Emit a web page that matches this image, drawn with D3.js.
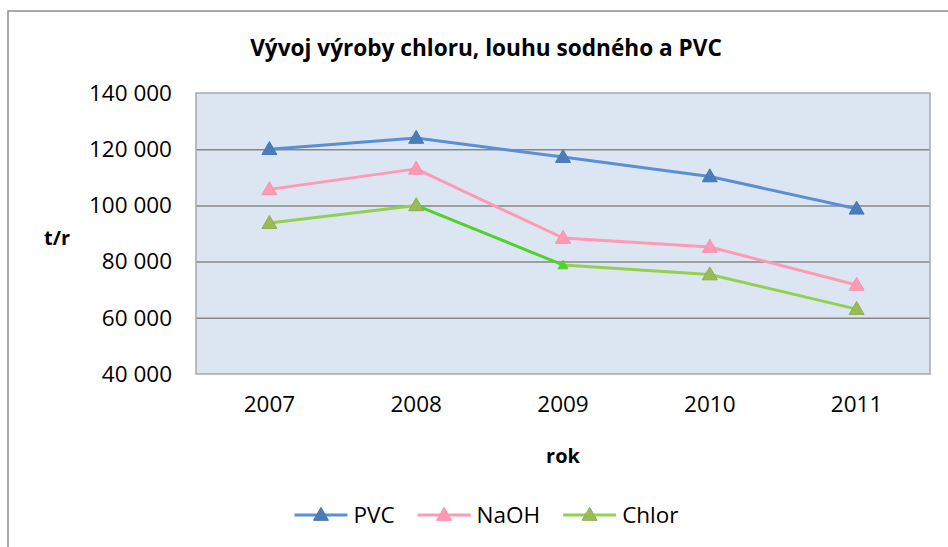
<!DOCTYPE html>
<html>
<head>
<meta charset="utf-8">
<script src="https://cdn.jsdelivr.net/npm/d3@7"></script>
<style>
  body { margin: 0; background: #fff; }
  svg text { font-family: "Open Sans", "Noto Sans", sans-serif; fill: #000; }
</style>
</head>
<body>
<svg id="chart" width="948" height="547"></svg>
<script>
// ---- data ----
var years = ["2007", "2008", "2009", "2010", "2011"]
var pvc   = [120000, 124000, 117200, 110300, 98800]
var naoh  = [105700, 113000, 88400, 85200, 71700]
var chlor = [93700, 100000, 78800, 75400, 63100]
var yTicks = [40000, 60000, 80000, 100000, 120000, 140000]
var seriesNames = ["PVC", "NaOH", "Chlor"]
var titleText = "Vývoj výroby chloru, louhu sodného a PVC"

var W = 948, H = 547
var plot = { left: 196, top: 93, right: 930, bottom: 374 }

// colours per series (line, marker fill, marker stroke)
var styles = [
  { line: "#5a8fd6", fill: "#4a7ebb", stroke: "#4477b4" },
  { line: "#ff99b4", fill: "#ff99b4", stroke: "#f593ad" },
  { line: "#92d050", fill: "#9bbb59", stroke: "#8cae48" }
]
// the one point Excel had formatted separately (Chlor 2009)
var oddPoint = { series: 2, index: 2, color: "#4fd22a", size: 10 }
var markerSide = 15

var svg = d3.select("#chart")

// outer chart frame (clipped on right and bottom like the screenshot)
svg.append("rect")
  .attr("x", 8).attr("y", 11)
  .attr("width", 960).attr("height", 560)
  .attr("fill", "#fff")
  .attr("stroke", "#8c8c8c")
  .attr("stroke-width", 1.5)

var x = d3.scaleBand()
  .domain(years)
  .range([plot.left, plot.right])

var y = d3.scaleLinear()
  .domain([40000, 140000])
  .range([plot.bottom, plot.top])

// plot area
svg.append("rect")
  .attr("x", plot.left).attr("y", plot.top)
  .attr("width", plot.right - plot.left)
  .attr("height", plot.bottom - plot.top)
  .attr("fill", "#dce6f2")

// gridlines
svg.append("g")
  .attr("transform", "translate(" + plot.left + ",0)")
  .call(d3.axisLeft(y)
    .tickValues(yTicks.slice(1, -1))
    .tickSize(-(plot.right - plot.left))
    .tickFormat(""))
  .call(function(g) { g.select(".domain").remove() })
  .selectAll("line")
    .attr("stroke", "#878787")
    .attr("stroke-width", 1.5)

svg.append("rect")
  .attr("x", plot.left).attr("y", plot.top)
  .attr("width", plot.right - plot.left)
  .attr("height", plot.bottom - plot.top)
  .attr("fill", "none")
  .attr("stroke", "#a9a9a9")
  .attr("stroke-width", 1.5)

// y axis labels
var loc = d3.formatLocale({ decimal: ",", thousands: " ", grouping: [3], currency: ["", ""] })
var yAxis = svg.append("g")
  .attr("transform", "translate(" + plot.left + ",0)")
  .call(d3.axisLeft(y)
    .tickValues(yTicks)
    .tickSize(0)
    .tickPadding(24)
    .tickFormat(loc.format(",")))
yAxis.select(".domain").remove()
yAxis.selectAll("text")
  .attr("font-size", "22.5px")
  .attr("font-family", "Open Sans")
  .attr("fill", "#000")

// x axis labels
var xAxis = svg.append("g")
  .attr("transform", "translate(0," + plot.bottom + ")")
  .call(d3.axisBottom(x).tickSize(0).tickPadding(22))
xAxis.select(".domain").remove()
xAxis.selectAll("text")
  .attr("font-size", "22.5px")
  .attr("font-family", "Open Sans")
  .attr("fill", "#000")

// axis titles
svg.append("text")
  .attr("x", (plot.left + plot.right) / 2)
  .attr("y", 463)
  .attr("text-anchor", "middle")
  .attr("font-size", "20px")
  .attr("font-weight", "bold")
  .text("rok")

svg.append("text")
  .attr("x", 57)
  .attr("y", 245)
  .attr("text-anchor", "middle")
  .attr("font-size", "20px")
  .attr("font-weight", "bold")
  .text("t/r")

// chart title
var title = svg.append("text")
  .attr("x", 486)
  .attr("y", 56)
  .attr("text-anchor", "middle")
  .attr("font-size", "19px")
  .attr("font-weight", "bold")
  .text(titleText)
var tw = title.node().getComputedTextLength()
title.attr("font-size", (19 * 472 / tw).toFixed(2) + "px")

// series
var allSeries = [pvc, naoh, chlor]
var cx = function(i) { return x(years[i]) + x.bandwidth() / 2 }
var tri = d3.symbol().type(d3.symbolTriangle)

allSeries.forEach(function(vals, s) {
  var st = styles[s]
  var g = svg.append("g")
  for (var i = 1; i < vals.length; i++) {
    var odd = (s === oddPoint.series && i === oddPoint.index)
    g.append("line")
      .attr("x1", cx(i - 1)).attr("y1", y(vals[i - 1]))
      .attr("x2", cx(i)).attr("y2", y(vals[i]))
      .attr("stroke", odd ? oddPoint.color : st.line)
      .attr("stroke-width", 3)
      .attr("stroke-linecap", "round")
  }
  vals.forEach(function(v, i) {
    var odd = (s === oddPoint.series && i === oddPoint.index)
    var sz = odd ? oddPoint.size : markerSide
    g.append("path")
      .attr("d", tri.size(sz * sz * 0.43)())
      .attr("transform", "translate(" + cx(i) + "," + (y(v) + 1) + ")")
      .attr("fill", odd ? oddPoint.color : st.fill)
      .attr("stroke", odd ? oddPoint.color : st.stroke)
      .attr("stroke-width", 1)
  })
})

// legend
var legend = svg.append("g")
var lx = 0
seriesNames.forEach(function(name, s) {
  var it = legend.append("g")
  it.append("line")
    .attr("x1", 0).attr("x2", 53).attr("y1", 0).attr("y2", 0)
    .attr("stroke", styles[s].line)
    .attr("stroke-width", 3)
  it.append("path")
    .attr("d", tri.size(markerSide * markerSide * 0.43)())
    .attr("transform", "translate(26.5,1)")
    .attr("fill", styles[s].fill)
    .attr("stroke", styles[s].stroke)
  var t = it.append("text")
    .attr("x", 59)
    .attr("dy", "0.35em")
    .attr("font-size", "22.5px")
    .text(name)
  it.attr("transform", "translate(" + lx + ",0)")
  lx += 59 + t.node().getComputedTextLength() + 23
})
lx -= 23
legend.attr("transform", "translate(" + (295 + (383 - lx) / 2) + ",515)")
</script>
</body>
</html>
